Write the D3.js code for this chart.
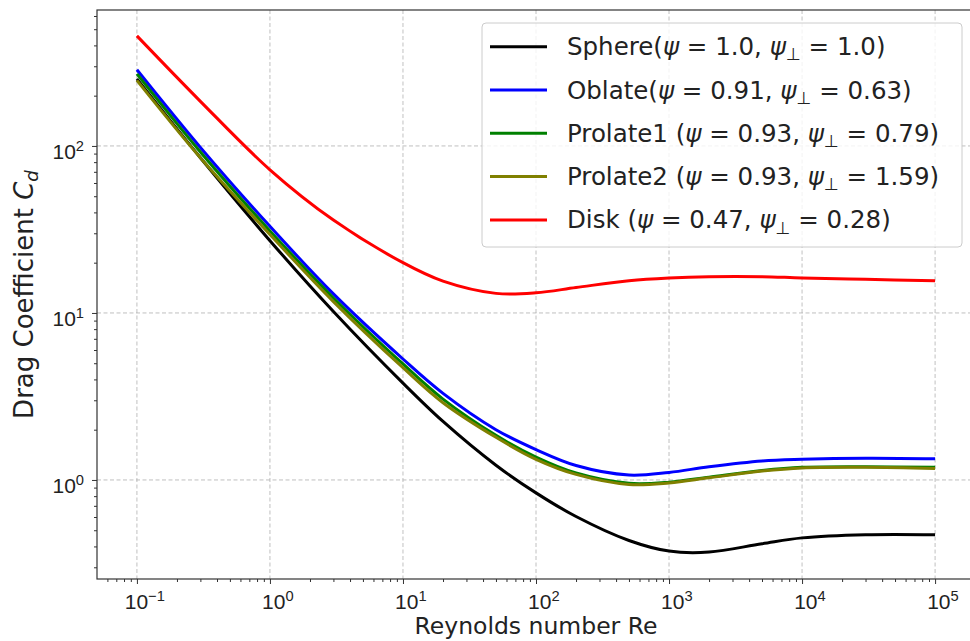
<!DOCTYPE html>
<html>
<head>
<meta charset="utf-8">
<script src="https://cdn.jsdelivr.net/npm/d3@7"></script>
<style>
  body { margin: 0; background: #fff; }
  svg { display: block; font-family: "DejaVu Sans", sans-serif; }
  .grid line { stroke: #b0b0b0; stroke-width: 0.8; stroke-dasharray: 4,2.5; }
  .axis path { display: none; }
  .axis line { stroke: #333; }
  .axis text { fill: #222; }
</style>
</head>
<body>
<div id="chart"></div>
<script>
// Reynolds numbers sampled along each curve
var reynolds = [0.1, 0.3, 1, 3, 10, 20, 50, 100, 200, 500, 1000, 2000, 5000, 1e4, 3e4, 1e5];

// Drag coefficient per shape
var sphere   = [252, 85, 27.1, 10.2, 3.8, 2.24, 1.225, 0.837, 0.604, 0.434, 0.375, 0.37, 0.415, 0.45, 0.47, 0.47];
var oblate   = [286, 98, 33, 13.0, 5.3, 3.3, 2.0, 1.52, 1.22, 1.07, 1.11, 1.2, 1.3, 1.33, 1.35, 1.34];
var prolate1 = [270, 92, 31, 12.3, 4.95, 3.05, 1.85, 1.37, 1.1, 0.955, 0.97, 1.04, 1.14, 1.19, 1.2, 1.19];
var prolate2 = [247, 85, 29.5, 11.7, 4.7, 2.9, 1.8, 1.33, 1.08, 0.94, 0.96, 1.03, 1.13, 1.18, 1.19, 1.17];
var disk     = [456, 185, 72, 36, 20, 15.5, 13.1, 13.2, 14.2, 15.6, 16.2, 16.5, 16.5, 16.2, 15.9, 15.6];

var seriesNames = ['Sphere', 'Oblate', 'Prolate1 ', 'Prolate2 ', 'Disk '];
var psiValues   = ['1.0', '0.91', '0.93', '0.93', '0.47'];
var psiPerp     = ['1.0', '0.63', '0.79', '1.59', '0.28'];
var colors      = ['#000000', '#0000ff', '#008000', '#808000', '#ff0000'];

var xTicks = [1e-1, 1e0, 1e1, 1e2, 1e3, 1e4, 1e5];
var xExps  = ['\u22121', '0', '1', '2', '3', '4', '5'];
var yTicks = [1e0, 1e1, 1e2];
var yExps  = ['0', '1', '2'];

var width = 970, height = 641;
var margin = {top: 10, right: -5, bottom: 62, left: 97};

var svg = d3.select('#chart').append('svg')
  .attr('width', width)
  .attr('height', height);

var x = d3.scaleLog()
  .domain([Math.pow(10, -1.3), Math.pow(10, 5.3)])
  .range([margin.left, width - margin.right]);

var y = d3.scaleLog()
  .domain([Math.pow(10, -0.593), Math.pow(10, 2.814)])
  .range([height - margin.bottom, margin.top]);

var plotBottom = height - margin.bottom;

// minor ticks 2..9 of each decade inside the domain
function minors(scale) {
  var out = [], dom = scale.domain();
  for (var e = -2; e <= 6; e++) {
    for (var m = 2; m <= 9; m++) {
      var v = m * Math.pow(10, e);
      if (v > dom[0] && v < dom[1]) out.push(v);
    }
  }
  return out;
}

// grid
svg.append('g').attr('class', 'grid')
  .selectAll('line').data(xTicks).enter().append('line')
  .attr('x1', function(d) { return x(d); })
  .attr('x2', function(d) { return x(d); })
  .attr('y1', margin.top)
  .attr('y2', plotBottom);

svg.append('g').attr('class', 'grid')
  .selectAll('line').data(yTicks).enter().append('line')
  .attr('x1', margin.left)
  .attr('x2', width)
  .attr('y1', function(d) { return y(d); })
  .attr('y2', function(d) { return y(d); });

// curves
var allSeries = [sphere, oblate, prolate1, prolate2, disk];

var line = d3.line()
  .x(function(d) { return x(d[0]); })
  .y(function(d) { return y(d[1]); })
  .curve(d3.curveCatmullRom.alpha(0.5));

svg.append('g').selectAll('path')
  .data(allSeries)
.enter().append('path')
  .attr('fill', 'none')
  .attr('stroke', function(d, i) { return colors[i]; })
  .attr('stroke-width', 3)
  .attr('stroke-linejoin', 'round')
  .attr('d', function(vals) {
    return line(reynolds.map(function(r, j) { return [r, vals[j]]; }));
  });

// axes
function powerLabel(sel, exps, ticks) {
  sel.selectAll('.tick text').each(function(d) {
    var t = d3.select(this).text('');
    var k = ticks.indexOf(d);
    t.append('tspan').text('10');
    t.append('tspan').attr('dy', '-0.55em').attr('font-size', '0.7em').text(exps[k]);
  });
}

var xAxis = svg.append('g').attr('class', 'axis')
  .attr('transform', 'translate(0,' + plotBottom + ')')
  .call(d3.axisBottom(x).tickValues(xTicks).tickSize(5).tickPadding(10).tickFormat(function() { return ''; }));
xAxis.selectAll('.tick text').attr('font-size', 21).attr('dx', '0.35em');
powerLabel(xAxis, xExps, xTicks);

svg.append('g').attr('class', 'axis')
  .attr('transform', 'translate(0,' + plotBottom + ')')
  .call(d3.axisBottom(x).tickValues(minors(x)).tickSize(3).tickFormat(function() { return ''; }));

var yAxis = svg.append('g').attr('class', 'axis')
  .attr('transform', 'translate(' + margin.left + ',0)')
  .call(d3.axisLeft(y).tickValues(yTicks).tickSize(5).tickPadding(8).tickFormat(function() { return ''; }));
yAxis.selectAll('.tick text').attr('font-size', 21).attr('dy', '0.6em');
powerLabel(yAxis, yExps, yTicks);

svg.append('g').attr('class', 'axis')
  .attr('transform', 'translate(' + margin.left + ',0)')
  .call(d3.axisLeft(y).tickValues(minors(y)).tickSize(3).tickFormat(function() { return ''; }));

// spines (right one falls just outside the picture)
svg.append('rect')
  .attr('x', margin.left)
  .attr('y', margin.top)
  .attr('width', width - margin.right - margin.left)
  .attr('height', plotBottom - margin.top)
  .attr('fill', 'none')
  .attr('stroke', '#333')
  .attr('stroke-width', 1.2);

// axis titles
svg.append('text')
  .attr('x', 536)
  .attr('y', 634)
  .attr('text-anchor', 'middle')
  .attr('font-size', 23.5)
  .attr('fill', '#222')
  .text('Reynolds number Re');

var yTitle = svg.append('text')
  .attr('transform', 'translate(33,' + ((margin.top + plotBottom) / 2) + ') rotate(-90)')
  .attr('text-anchor', 'middle')
  .attr('font-size', 26)
  .attr('fill', '#222');
yTitle.append('tspan').text('Drag Coefficient ');
yTitle.append('tspan').attr('font-style', 'italic').text('C');
yTitle.append('tspan').attr('font-style', 'italic').attr('font-size', '0.7em').attr('dy', '0.3em').text('d');

// legend
var legend = svg.append('g');

legend.append('rect')
  .attr('x', 482).attr('y', 23)
  .attr('width', 480).attr('height', 224)
  .attr('rx', 4)
  .attr('fill', '#fff').attr('fill-opacity', 0.8)
  .attr('stroke', '#cccccc');

var rows = legend.selectAll('.row')
  .data(seriesNames)
.enter().append('g')
  .attr('class', 'row')
  .attr('transform', function(d, i) { return 'translate(0,' + (46.7 + i * 43.3) + ')'; });

rows.append('line')
  .attr('x1', 490).attr('x2', 547)
  .attr('stroke', function(d, i) { return colors[i]; })
  .attr('stroke-width', 3);

var labels = rows.append('text')
  .attr('x', 567)
  .attr('y', 8.5)
  .attr('font-size', 24.5)
  .attr('fill', '#222');

labels.each(function(d, i) {
  var t = d3.select(this);
  t.append('tspan').text(d + '(');
  t.append('tspan').attr('font-style', 'italic').text('\u03c8');
  t.append('tspan').text(' = ' + psiValues[i] + ', ');
  t.append('tspan').attr('font-style', 'italic').text('\u03c8');
  t.append('tspan').attr('font-size', '0.7em').attr('dy', '0.3em').text('\u22a5');
  t.append('tspan').attr('dy', '-0.21em').text(' = ' + psiPerp[i] + ')');
});
</script>
</body>
</html>
